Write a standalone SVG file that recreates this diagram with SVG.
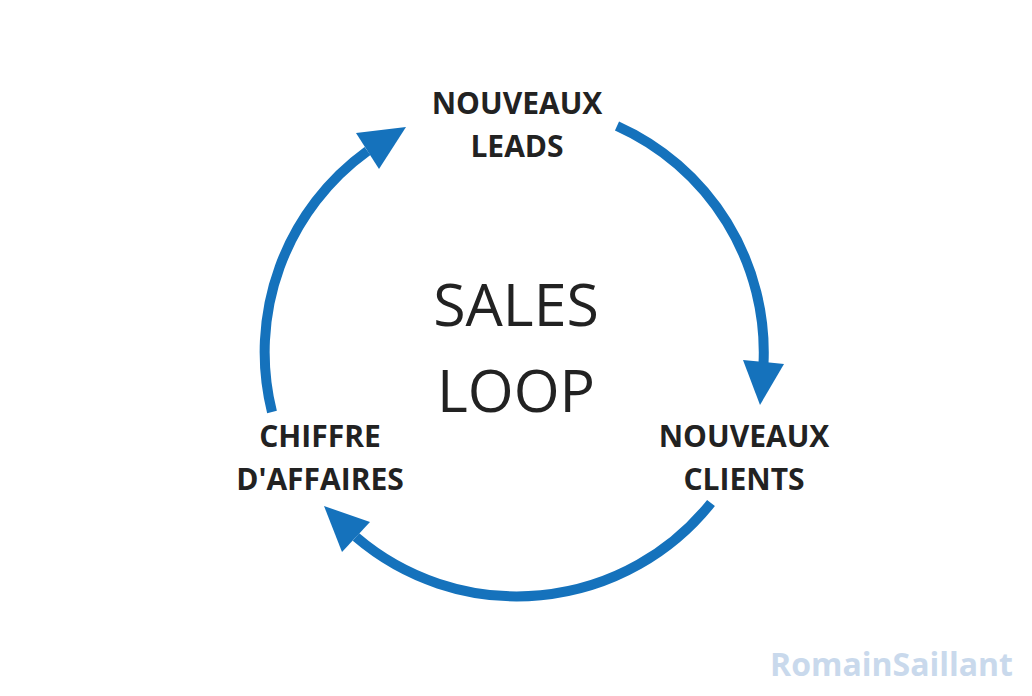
<svg xmlns="http://www.w3.org/2000/svg" width="1032" height="696" viewBox="0 0 1032 696">
<style>
.lbl{font-family:"Open Sans","Liberation Sans",sans-serif;font-weight:700;font-size:30px;fill:#222;text-anchor:middle}
.title{font-family:"Open Sans","Liberation Sans",sans-serif;font-weight:400;font-size:59px;fill:#222;text-anchor:middle}
.arc{fill:none;stroke:#1572bc;stroke-width:10}
.head{fill:#1572bc}
.wm{font-family:"Open Sans","Liberation Sans",sans-serif;font-weight:700;font-size:32px;fill:#c9d9ec;text-anchor:end}
</style>
<rect width="1032" height="696" fill="#fff"/>
<g id="connectors">
<path class="arc" d="M617,126 A248,248 0 0 1 763.5,364"/>
<polygon class="head" points="760,405 743,360 784,364"/>
<path class="arc" d="M711,503 A248,248 0 0 1 356,537"/>
<polygon class="head" points="324,506 370,522 342,552"/>
<path class="arc" d="M272,412 A248,248 0 0 1 367.5,151"/>
<polygon class="head" points="406,127 356,133 379,169"/>
</g>
<g id="node-leads">
<text class="lbl" x="517" y="114">NOUVEAUX</text>
<text class="lbl" x="517" y="157">LEADS</text>
</g>
<g id="node-clients">
<text class="lbl" x="744" y="447">NOUVEAUX</text>
<text class="lbl" x="744" y="490">CLIENTS</text>
</g>
<g id="node-ca">
<text class="lbl" x="320" y="447">CHIFFRE</text>
<text class="lbl" x="320" y="490">D'AFFAIRES</text>
</g>
<g id="center">
<text class="title" x="516" y="326">SALES</text>
<text class="title" x="516" y="412">LOOP</text>
</g>
<text class="wm" x="1013" y="676">RomainSaillant</text>
</svg>
